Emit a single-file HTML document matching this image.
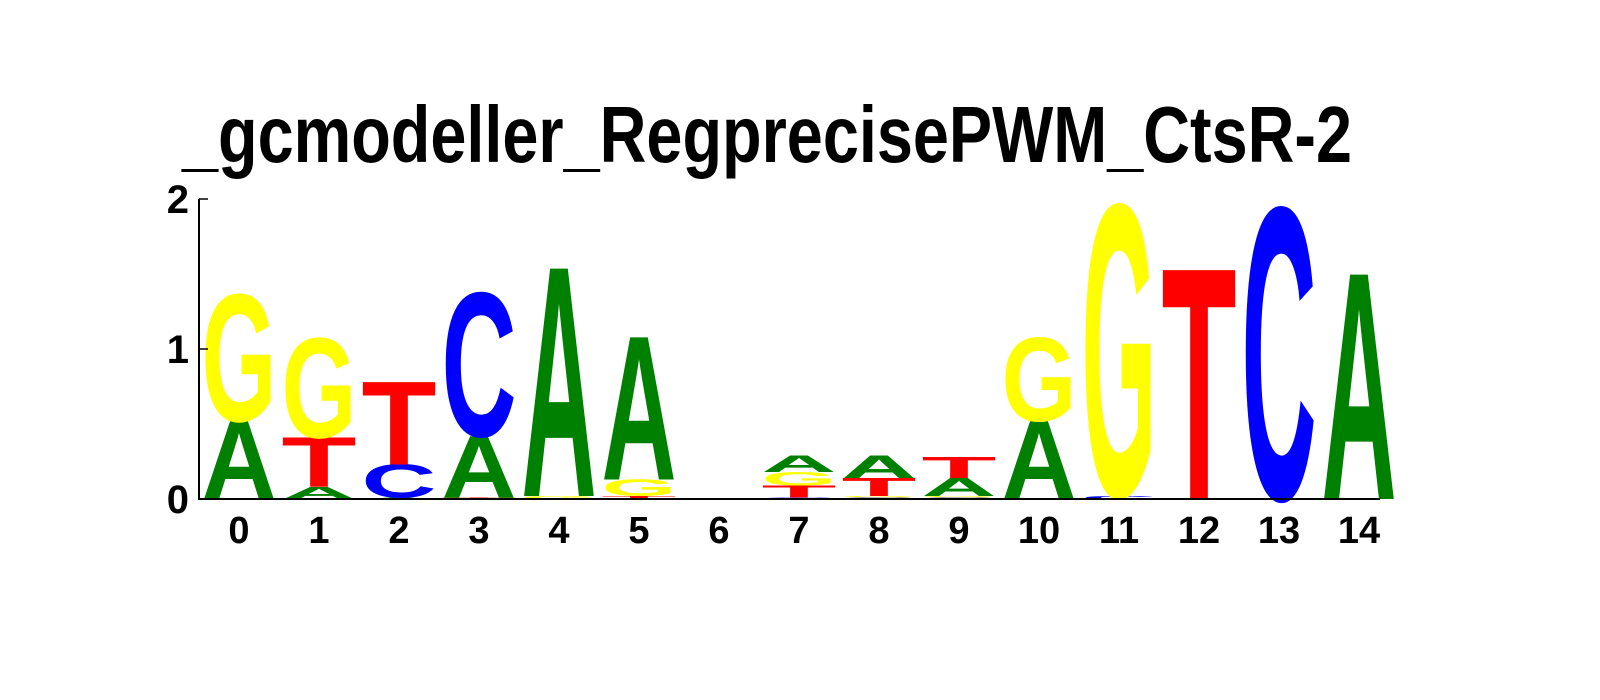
<!DOCTYPE html>
<html><head><meta charset="utf-8"><style>body{margin:0;background:#fff}svg{display:block}</style></head>
<body>
<svg id="chart" width="1600" height="700" xmlns="http://www.w3.org/2000/svg" font-family="'Liberation Sans', sans-serif" font-weight="bold">
<rect width="1600" height="700" fill="#fff"/>
<text x="767" y="162" font-size="80" text-anchor="middle" textLength="1170" lengthAdjust="spacingAndGlyphs">_gcmodeller_RegprecisePWM_CtsR-2</text>
<g id="marks"></g>
<g id="axes"></g>
</svg>
<script>
const positions = ["0","1","2","3","4","5","6","7","8","9","10","11","12","13","14"];
const bitsA = [0.52,0.08,0.01,0.41,1.52,0.95,0,0.11,0.15,0.12,0.52,0,0,0,1.50];
const bitsC = [0,0,0.22,0.95,0,0,0,0.01,0.01,0.01,0,0.02,0,1.93,0];
const bitsG = [0.84,0.66,0,0,0.02,0.11,0,0.09,0.01,0.01,0.55,1.93,0,0,0];
const bitsT = [0,0.33,0.55,0.01,0,0.02,0,0.08,0.12,0.14,0,0,1.53,0,0];
const yTicks = [0,1,2];

const NS="http://www.w3.org/2000/svg";
const x0=199, x1=1380, y0=499, pxPerBit=150, step=80, first=239;
const xPos=i=>first+step*i;
const yPos=v=>y0-pxPerBit*v;
const colors={A:"#008000",C:"#0000ff",G:"#ffff00",T:"#ff0000"};
const series={A:bitsA,C:bitsC,G:bitsG,T:bitsT};
const marks=document.getElementById('marks');
const axes=document.getElementById('axes');
const W=75, CAP=69;
positions.forEach((p,i)=>{
  const letters=Object.keys(series).map(k=>[k,series[k][i]]).filter(d=>d[1]>0).sort((a,b)=>a[1]-b[1]);
  let base=0;
  letters.forEach(([k,v])=>{
    const h=v*pxPerBit;
    const t=document.createElementNS(NS,'text');
    
    
    t.setAttribute('x',0);t.setAttribute('y',0);
    t.setAttribute('font-size',100);
    t.setAttribute('textLength',W);
    t.setAttribute('lengthAdjust','spacingAndGlyphs');
    t.setAttribute('fill',colors[k]);
    t.setAttribute('transform','translate('+(xPos(i)-W/2)+','+yPos(base)+') scale(1,'+(h/CAP)+')');
    t.textContent=k;
    marks.appendChild(t);
    base+=v;
  });
  const lb=document.createElementNS(NS,'text');
  
  
  lb.setAttribute('x',xPos(i));lb.setAttribute('y',543);
  lb.setAttribute('font-size',38);lb.setAttribute('text-anchor','middle');
  lb.textContent=p;
  axes.appendChild(lb);
});
const ax=document.createElementNS(NS,'path');


ax.setAttribute('d','M'+x0+','+yPos(2)+'V'+y0+'H'+x1);
ax.setAttribute('stroke','#000');ax.setAttribute('stroke-width',2);ax.setAttribute('fill','none');
axes.appendChild(ax);
yTicks.forEach(v=>{
  const tk=document.createElementNS(NS,'line');
  
  
  tk.setAttribute('x1',x0);tk.setAttribute('x2',x0+9);
  tk.setAttribute('y1',yPos(v));tk.setAttribute('y2',yPos(v));
  tk.setAttribute('stroke','#000');tk.setAttribute('stroke-width',1.5);
  axes.appendChild(tk);
  const lb=document.createElementNS(NS,'text');
  
  
  lb.setAttribute('x',189);lb.setAttribute('y',yPos(v)+14);
  lb.setAttribute('font-size',40);lb.setAttribute('text-anchor','end');
  lb.textContent=v;
  axes.appendChild(lb);
});
</script>
</body></html>
